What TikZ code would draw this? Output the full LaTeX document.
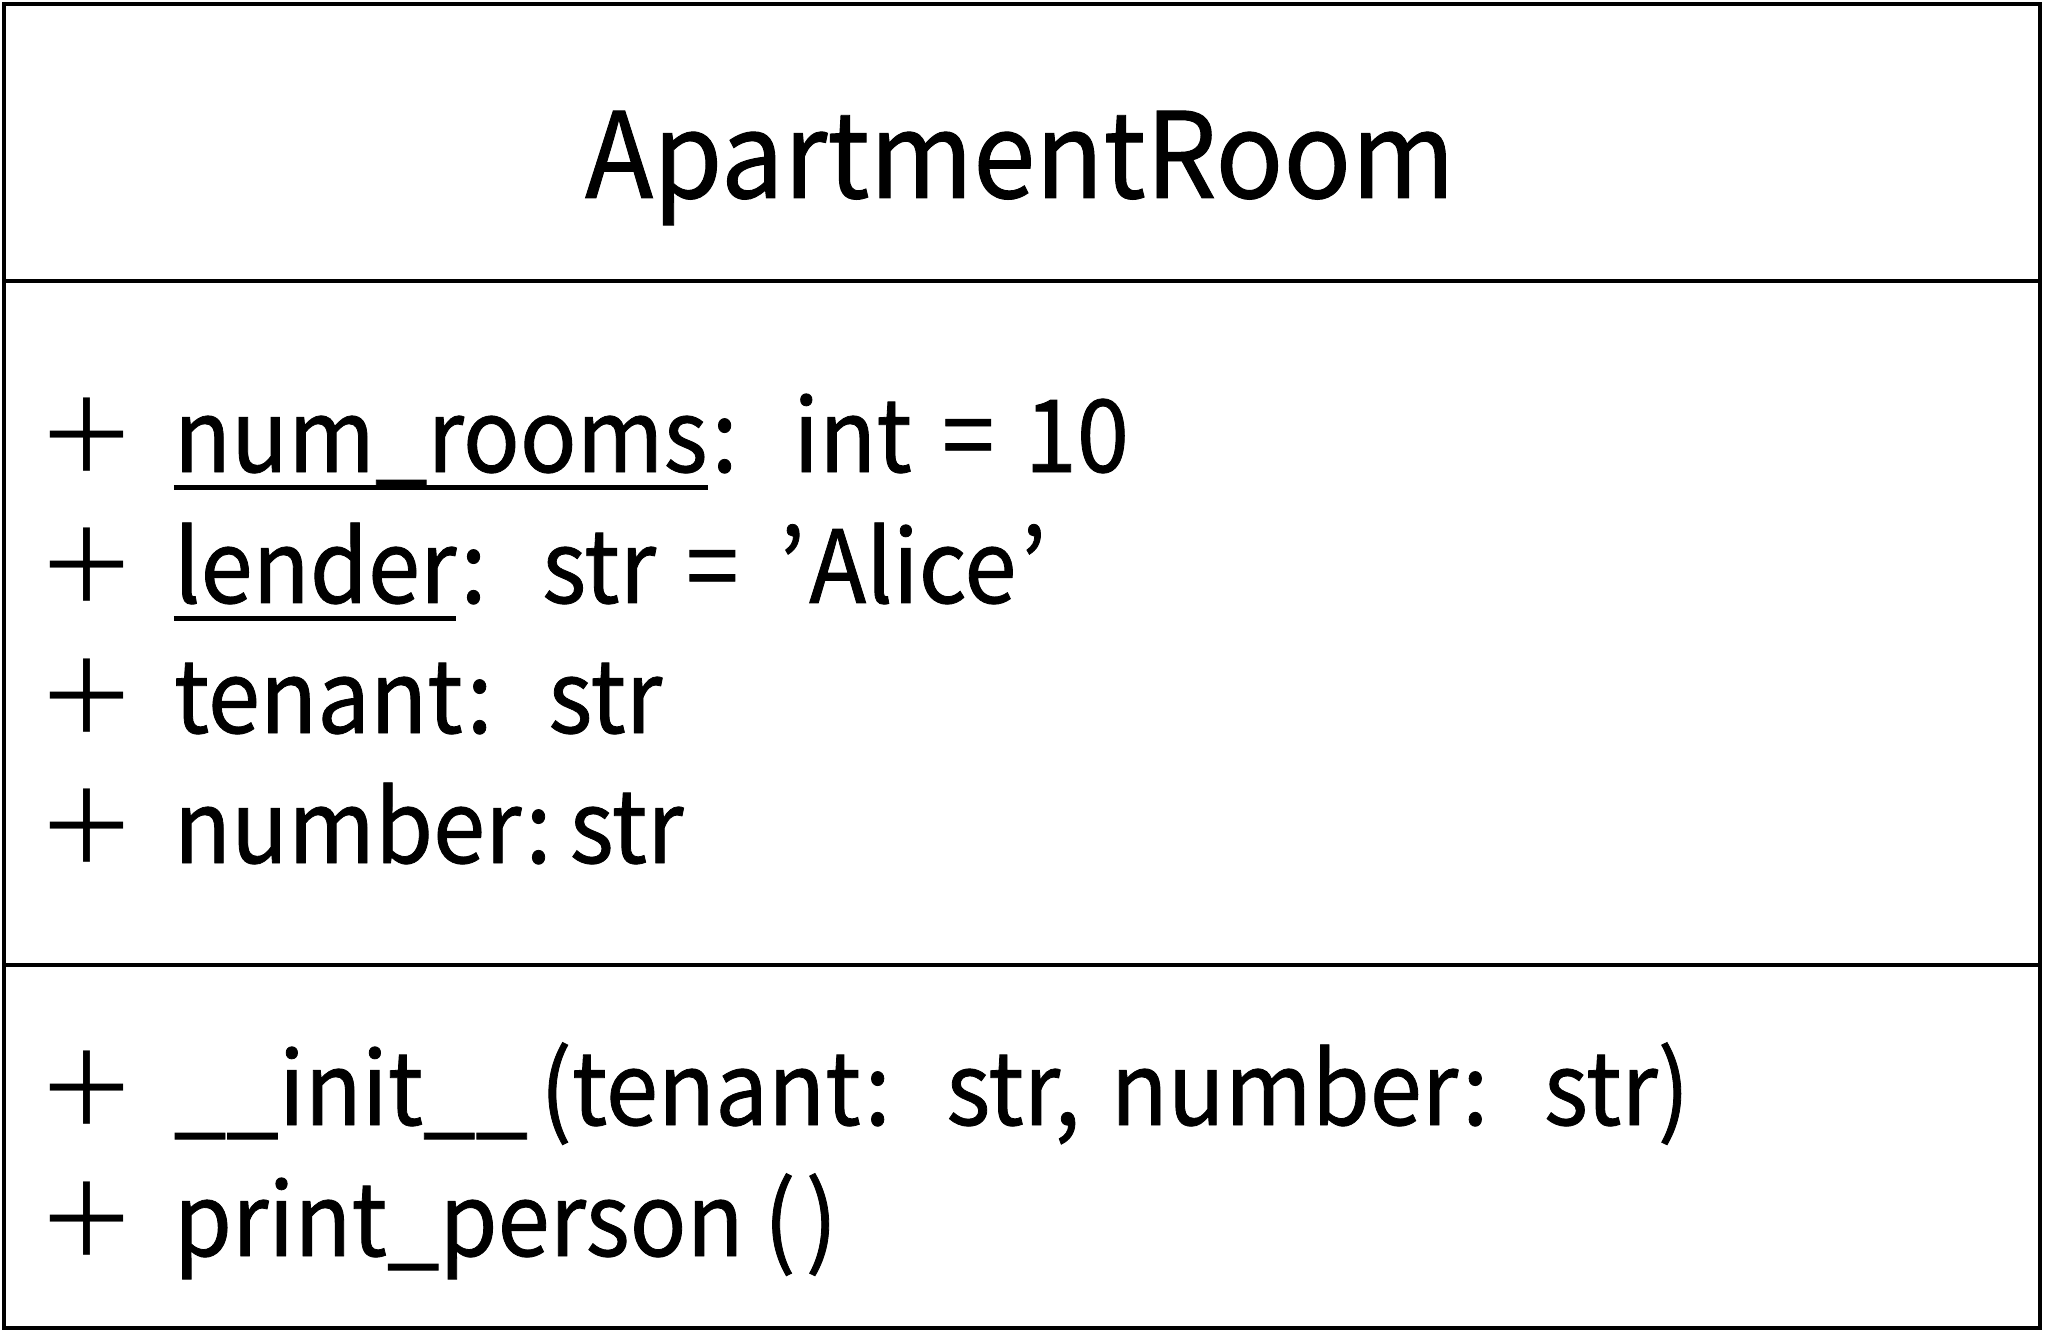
\documentclass[tikz,border=0pt]{standalone}
\usepackage{fontspec}
\setmainfont[FakeStretch=0.93, FakeBold=0.8, WordSpace=1.45]{Noto Sans CJK JP}
\newfontfamily\titlefont[FakeStretch=0.942, FakeBold=0.8]{Noto Sans CJK JP}
\newfontfamily\plusfont{Noto Sans CJK JP}
\usepackage{tikz}

% member pieces: visibility mark, colon, static underline
\newcommand{\vis}{\makebox[39pt][l]{\plusfont ＋}}
\newcommand{\col}{\kern0.04em:\kern0.18em}
\newcommand{\static}[1]{\vtop{\hbox{\smash{#1}}\kern3.6pt\hrule height 1.4pt}}

\begin{document}
\begin{tikzpicture}[x=0.01cm, y=-0.01cm, line width=1pt,
		title/.style = {anchor=base, inner sep=0pt, font=\fontsize{33.8pt}{40pt}\titlefont},
		member/.style = {anchor=base west, inner sep=0pt, font=\fontsize{28.7pt}{37pt}\selectfont}]
		\useasboundingbox (0,0) rectangle (2045,1343);
		% class frame and compartments
		\draw (4,4) rectangle (2040,1328);
		\draw (4,281) -- (2040,281);
		\draw (4,965) -- (2040,965);
		
		\node[title] (name) at (1020,198) {ApartmentRoom};
		
		\node[member] (a1) at (35,472) {\vis\static{num\_rooms}\col{} int = 10};
		\node[member] (a2) at (35,603) {\vis\static{lender}\col{} str = \kern0.1em’\kern0.04em Alice\kern0.04em’};
		\node[member] (a3) at (35,733) {\vis tenant\col{} str};
		\node[member] (a4) at (35,863) {\vis number\col str};
		
		\node[member] (m1) at (35,1125) {\vis\_\_init\_\_\kern0.12em(tenant\col{} str, number\col{} str)};
		\node[member] (m2) at (35,1256) {\vis print\_person\kern0.2em(\kern0.1em)};

	\end{tikzpicture}
\end{document}
